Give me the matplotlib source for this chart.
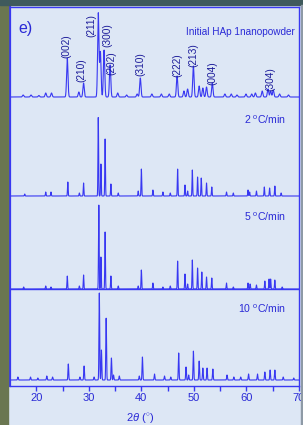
import numpy as np
import matplotlib
matplotlib.use("Agg")
from matplotlib import pyplot as plt
from matplotlib.patches import Rectangle

plt.rcParams["font.family"] = ["Liberation Sans", "DejaVu Sans"]
plt.rcParams["mathtext.fontset"] = "custom"
plt.rcParams["mathtext.rm"] = "Liberation Sans"
plt.rcParams["mathtext.it"] = "Liberation Sans:italic"

# peak positions (2theta, deg) and heights (arb.)
init_pos = [17.5, 19.0, 20.5, 21.8, 22.9, 25.9, 28.1, 29.0, 31.8, 32.2, 32.9, 34.05,
            35.5, 37.2, 39.2, 39.8, 42.0, 43.8, 45.3, 46.8, 48.1, 48.8, 49.9,
            51.0, 51.7, 52.4, 53.5, 55.9, 57.1, 58.2, 59.9, 61.0, 61.7, 63.0,
            64.1, 64.6, 65.1, 66.3, 68.0]
init_h = [2, 2, 1.5, 4, 4, 39, 5, 14, 84, 45, 47, 32,
          4, 2, 3, 19, 3, 3, 3, 21, 6, 8, 31,
          11, 9, 10, 14, 3, 3, 2, 3, 3, 4, 6,
          8, 6, 7, 3, 2]

r2_pos = [17.8, 21.8, 22.8, 26.0, 28.2, 29.0, 31.8, 32.3, 33.1, 34.2, 35.6,
          39.4, 40.0, 42.2, 44.1, 45.5, 46.9, 48.3, 48.8, 49.7, 50.7, 51.4,
          52.4, 53.4, 56.2, 57.5, 60.3, 60.6, 61.9, 63.4, 64.4, 65.4, 66.6]
r2_h = [2, 4, 4, 14, 3, 13, 79, 32, 57, 12, 3,
        5, 27, 6, 4, 3, 27, 11, 5, 26, 19, 18,
        13, 9, 4, 3, 6, 4, 5, 9, 8, 10, 3]

r5_pos = [17.6, 21.8, 22.8, 25.9, 28.2, 29.0, 31.9, 32.3, 33.1, 34.2, 35.6,
          39.4, 40.0, 42.2, 44.1, 45.5, 46.9, 48.3, 48.8, 49.7, 50.7, 51.5,
          52.4, 53.4, 56.2, 57.5, 60.3, 60.7, 61.9, 63.5, 64.3, 64.6, 65.4, 66.8]
r5_h = [2, 3, 2, 13, 3, 14, 84, 32, 57, 13, 3,
        3, 19, 6, 2, 3, 28, 15, 5, 29, 21, 17,
        12, 11, 6, 2, 6, 5, 4, 8, 10, 10, 9, 2]

r10_pos = [16.5, 18.9, 20.3, 22.0, 23.1, 26.1, 28.3, 29.1, 31.0, 32.0, 32.4,
           33.3, 34.3, 34.7, 35.8, 39.6, 40.2, 42.5, 44.4, 45.6, 47.1, 48.5,
           49.0, 49.9, 51.0, 51.7, 52.5, 53.6, 56.3, 57.6, 58.9, 60.4, 62.1,
           63.5, 64.5, 65.4, 67.0, 69.0]
r10_h = [3, 3, 2, 4, 3, 16, 3, 14, 3, 87, 30,
         62, 22, 5, 4, 4, 23, 6, 4, 3, 27, 13,
         5, 29, 19, 12, 12, 11, 5, 3, 3, 6, 6,
         8, 10, 10, 3, 2]

traces = [
    (init_pos, init_h, 0.30, 289),
    (r2_pos, r2_h, 0.14, 190),
    (r5_pos, r5_h, 0.14, 97),
    (r10_pos, r10_h, 0.16, 6),
]

labels_hkl = ["(002)", "(210)", "(211)", "(300)", "(202)", "(310)",
              "(222)", "(213)", "(004)", "(304)"]
label_x = [25.7, 28.6, 30.5, 33.6, 34.3, 39.9, 46.8, 49.9, 53.5, 64.6]
label_y = [328, 304, 349, 339, 311, 310, 309, 319, 301, 295]

rates = ["2 $^{\\mathrm{o}}$C/min", "5 $^{\\mathrm{o}}$C/min", "10 $^{\\mathrm{o}}$C/min"]
rate_y = [266, 169, 77]

blue = "#3838f2"
txt_blue = "#2a2ad6"
bg = "#dde7f5"

fig = plt.figure(figsize=(3.03, 4.25), dpi=100, facecolor=bg)
fig.patches.append(Rectangle((0, 0), 8 / 303, 1, transform=fig.transFigure,
                             color="#6a7650", zorder=0))
fig.patches.append(Rectangle((0, 1 - 5 / 425), 1, 5 / 425, transform=fig.transFigure,
                             color="#3f5a5c", zorder=0))
fig.patches.append(Rectangle((301 / 303, 0), 2 / 303, 1 - 5 / 425,
                             transform=fig.transFigure, color="#8e9aa6", zorder=0))

ax = fig.add_axes([10 / 303, 39 / 425, 289 / 303, 379 / 425])
ax.set_facecolor(bg)

x = np.linspace(15, 70, 4000)
for pos, h, w, off in traces:
    y = np.zeros_like(x)
    for p, hh in zip(pos, h):
        y += hh * np.exp(-4 * np.log(2) * ((x - p) / w) ** 2)
    ax.plot(x, y + off, color=blue, lw=0.8)

ax.axhline(97, color=blue, lw=1.0)

for lab, lx, ly in zip(labels_hkl, label_x, label_y):
    ax.text(lx, ly, lab, rotation=90, ha="center", va="bottom",
            fontsize=7.3, color="#1c1c9a")

ax.text(0.985, 0.935, "Initial HAp 1nanopowder", transform=ax.transAxes,
        ha="right", va="center", fontsize=7.2, color=txt_blue)
for r, ry in zip(rates, rate_y):
    ax.text(0.955, ry, r, transform=ax.get_yaxis_transform(), ha="right",
            va="center", fontsize=7.6, color=txt_blue)
ax.text(0.028, 0.943, "e)", transform=ax.transAxes, ha="left", va="center",
        fontsize=11.5, color=txt_blue)

ax.set_xlim(15, 70)
ax.set_ylim(0, 379)
ax.set_xticks([20, 30, 40, 50, 60, 70])
ax.set_xticks([25, 35, 45, 55, 65], minor=True)
ax.set_yticks([])
ax.tick_params(axis="x", which="both", direction="out", length=3.5, width=1,
               color=blue, labelcolor=txt_blue, labelsize=8, pad=1.5)
for s in ax.spines.values():
    s.set_color(blue)
    s.set_linewidth(1.0)
ax.spines["left"].set_linewidth(1.6)

ax.text(0.45, -0.085, "2$\\theta$ ($^{\\circ}$)", transform=ax.transAxes,
        ha="center", va="center", fontsize=8, color=txt_blue)

fig.savefig("out.png", dpi=100, facecolor=bg)
